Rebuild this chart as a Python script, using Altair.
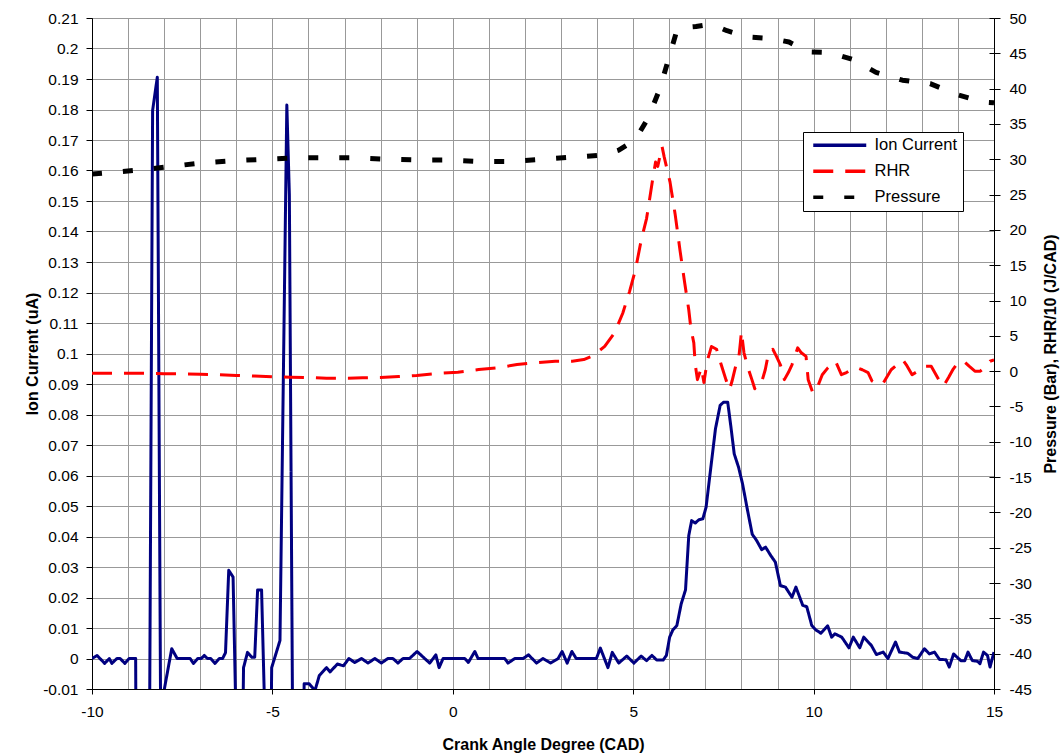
import altair as alt
import pandas as pd

# Ion current trace (crank angle in CAD, current in uA)
ion_cad = [
    -10.00, -9.86, -9.65, -9.52, -9.45, -9.31, -9.22, -9.09, -8.97, -8.79,
    -8.77, -8.42, -8.32, -8.19, -8.08, -8.01, -7.79, -7.64, -7.28, -7.19,
    -7.07, -6.97, -6.89, -6.80, -6.71, -6.59, -6.47, -6.38, -6.30, -6.21,
    -6.09, -5.94, -5.86, -5.80, -5.69, -5.57, -5.49, -5.41, -5.30, -5.12,
    -5.07, -5.02, -4.79, -4.60, -4.53, -4.42, -4.18, -4.12, -3.98, -3.82,
    -3.70, -3.50, -3.40, -3.20, -3.03, -2.88, -2.72, -2.53, -2.35, -2.16,
    -1.98, -1.80, -1.66, -1.52, -1.38, -1.20, -0.99, -0.78, -0.64, -0.47,
    -0.38, -0.27, 0.33, 0.43, 0.61, 0.70, 1.44, 1.53, 1.72, 1.95,
    2.10, 2.32, 2.50, 2.71, 2.92, 3.03, 3.17, 3.30, 3.42, 3.98,
    4.09, 4.30, 4.42, 4.60, 4.82, 5.02, 5.22, 5.37, 5.52, 5.65,
    5.83, 5.92, 6.01, 6.10, 6.21, 6.33, 6.45, 6.54, 6.62, 6.72,
    6.82, 6.93, 7.02, 7.13, 7.28, 7.41, 7.50, 7.62, 7.71, 7.80,
    7.92, 8.03, 8.17, 8.30, 8.41, 8.56, 8.67, 8.81, 8.94, 9.08,
    9.22, 9.40, 9.51, 9.70, 9.81, 9.95, 10.06, 10.20, 10.39, 10.50,
    10.59, 10.78, 10.98, 11.10, 11.28, 11.39, 11.60, 11.74, 11.93, 12.06,
    12.27, 12.38, 12.61, 12.75, 12.89, 13.07, 13.21, 13.35, 13.49, 13.67,
    13.76, 13.88, 14.08, 14.19, 14.28, 14.40, 14.54, 14.61, 14.71, 14.82,
    14.89, 15.00,
]
ion_ua = [
    0.0, 0.001, -0.0016, 0.0, -0.0016, 0.0, 0.0, -0.0016, 0.0, 0.0,
    -0.06, -0.06, 0.1797, 0.1906, -0.06, -0.011, 0.0032, 0.0, 0.0, -0.0016,
    0.0, 0.0, 0.001, 0.0, 0.0, -0.0016, 0.0, 0.0, 0.0019, 0.0289,
    0.0267, -0.06, -0.06, -0.003, 0.002, 0.0004, 0.0004, 0.0225, 0.0225, -0.06,
    -0.06, -0.003, 0.0059, 0.1815, 0.152, -0.06, -0.06, -0.0083, -0.0083, -0.0105,
    -0.0056, -0.0030, -0.0044, -0.0018, -0.0024, 0.0, -0.0013, 0.0, -0.0015, 0.0,
    -0.0015, 0.0, 0.0, -0.0015, 0.0, 0.0, 0.0023, 0.0, -0.0015, 0.0012,
    -0.003, 0.0, 0.0, -0.0013, 0.0023, 0.0, 0.0, -0.0015, 0.0, 0.0,
    0.0012, -0.0015, 0.0, -0.0015, 0.0, 0.0023, -0.0015, 0.0023, 0.0, 0.0,
    0.0034, -0.003, 0.002, -0.0015, 0.0008, -0.0015, 0.0008, -0.0007, 0.001, -0.0005,
    -0.0005, 0.001, 0.007, 0.0094, 0.0108, 0.0179, 0.0225, 0.0403, 0.0452, 0.0444,
    0.0455, 0.0458, 0.0496, 0.0605, 0.0753, 0.0830, 0.0840, 0.0840, 0.0758, 0.0671,
    0.0627, 0.0573, 0.0485, 0.0407, 0.0389, 0.0357, 0.0365, 0.0338, 0.0316, 0.0239,
    0.0234, 0.0201, 0.0234, 0.0174, 0.0170, 0.0108, 0.0094, 0.0083, 0.0107, 0.0070,
    0.0081, 0.0070, 0.0035, 0.0070, 0.0035, 0.0070, 0.0043, 0.0013, 0.0021, 0.0,
    0.0054, 0.0021, 0.0017, 0.0004, 0.0, 0.0032, 0.0015, 0.0021, -0.0003, -0.0004,
    -0.0028, 0.0015, -0.0007, -0.0007, 0.0021, -0.0007, -0.0009, -0.0017, 0.0021, 0.001,
    -0.0028, 0.0021,
]

# Rate of heat release / 10 (J/CAD)
rhr_cad = [
    -10.0, -9.5, -9.0, -8.5, -8.0, -7.5, -7.0, -6.5, -6.0, -5.5,
    -5.0, -4.5, -4.0, -3.5, -3.0, -2.5, -2.0, -1.5, -1.0, -0.5,
    0.14, 0.72, 1.25, 1.78, 2.25, 2.84, 3.31, 3.63, 3.89, 4.21,
    4.48, 4.71, 4.90, 5.06, 5.22, 5.37, 5.45, 5.55, 5.62, 5.68,
    5.80, 5.86, 6.02, 6.16, 6.30, 6.43, 6.54, 6.60, 6.68, 6.72,
    6.78, 6.89, 6.96, 7.05, 7.17, 7.31, 7.44, 7.57, 7.67, 7.74,
    7.84, 7.92, 7.97, 8.00, 8.07, 8.18, 8.29, 8.37, 8.44, 8.58,
    8.66, 8.76, 8.87, 8.97, 9.08, 9.19, 9.30, 9.40, 9.56, 9.66,
    9.79, 9.85, 9.98, 10.08, 10.24, 10.40, 10.61, 10.77, 10.91, 11.04,
    11.20, 11.35, 11.51, 11.62, 11.78, 11.94, 12.15, 12.31, 12.47, 12.57,
    12.73, 12.89, 13.10, 13.26, 13.47, 13.60, 13.74, 13.87, 14.00, 14.16,
    14.31, 14.47, 14.62, 14.78, 14.89, 15.00,
]
rhr_val = [
    -0.3, -0.3, -0.3, -0.3, -0.35, -0.4, -0.45, -0.5, -0.6, -0.7,
    -0.8, -0.85, -0.9, -1.0, -1.0, -0.95, -0.9, -0.75, -0.6, -0.35,
    -0.14, 0.23, 0.47, 0.94, 1.17, 1.41, 1.41, 1.64, 2.2, 3.5,
    5.4, 8.2, 11.3, 14.3, 18.5, 21.6, 24.2, 27.5, 29.6, 29.0,
    31.8, 30.3, 26.8, 22.3, 17.0, 12.4, 8.7, 6.0, 4.0, 0.9,
    -1.2, 0.5, -1.6, 1.4, 3.5, 3.1, 0.9, -1.2, -2.6, -1.4,
    0.7, 1.6, 4.0, 5.6, 2.6, 0.5, -1.2, -2.5, -1.6, -1.2,
    0.2, 2.8, 3.1, 2.1, 0.9, -1.2, -0.2, 0.9, 3.3, 2.6,
    2.1, -1.2, -3.1, -2.6, -0.5, 0.5, 1.4, -0.5, -0.2, 0.2,
    0.5, 0.2, -0.2, -1.4, -1.9, -1.6, 0.2, 0.9, 1.6, 0.9,
    -0.5, 0.0, 0.7, 0.7, -1.2, -2.1, -0.9, 0.3, 1.2, 1.4,
    0.7, 0.0, 0.0, 0.7, 1.4, 1.6,
]

# Cylinder pressure (bar)
p_cad = [
    -10.0, -8.64, -7.79, -6.93, -6.08, -5.22, -4.37, -3.51, -2.66, -1.82,
    -0.96, -0.11, 0.70, 1.60, 2.48, 3.33, 4.15, 4.60, 4.92, 5.20,
    5.42, 5.74, 5.98, 6.22, 6.50, 6.74, 7.00, 7.28, 7.60, 8.19,
    8.81, 9.32, 9.85, 10.45, 11.10, 11.73, 12.46, 13.23, 13.95, 14.70,
    15.00,
]
p_bar = [
    27.9, 28.5, 29.0, 29.5, 29.8, 30.0, 30.2, 30.2, 30.2, 30.0,
    29.9, 29.9, 29.7, 29.7, 30.0, 30.3, 30.6, 31.3, 32.3, 34.0,
    35.9, 40.0, 44.2, 48.4, 48.7, 48.8, 49.0, 48.9, 48.2, 47.3,
    47.1, 46.6, 45.2, 45.1, 44.1, 42.3, 41.2, 40.7, 39.2, 38.1,
    38.0,
]

series_names = ["Ion Current", "RHR", "Pressure"]
series_colors = ["#000080", "#FF0000", "#000000"]
series_dash = [[1, 0], [20, 12], [10, 21]]

x_ticks = list(range(-10, 16))
left_ticks = [round(i * 0.01, 2) for i in range(-1, 22)]
right_ticks = list(range(-45, 55, 5))

PLOT_W = 902
PLOT_H = 671
FONT = "Liberation Sans"
MINUS_FIX = "replace(format(datum.value, '{fmt}'), '\u2212', '-')"

ion_df = pd.DataFrame({"cad": ion_cad, "value": ion_ua, "series": "Ion Current"})
right_df = pd.concat(
    [
        pd.DataFrame({"cad": rhr_cad, "value": rhr_val, "series": "RHR"}),
        pd.DataFrame({"cad": p_cad, "value": p_bar, "series": "Pressure"}),
    ],
    ignore_index=True,
)

legend = alt.Legend(
    title=None,
    orient="none",
    legendX=711,
    legendY=114,
    symbolType="M-0.6,0L10,0",
    symbolSize=100,
    symbolStrokeWidth=3.5,
    labelFont=FONT,
    labelFontSize=16.5,
    labelColor="black",
    labelOffset=50,
    fillColor="white",
    strokeColor="black",
    padding=5,
    rowPadding=9,
)

color = alt.Color(
    "series:N",
    scale=alt.Scale(domain=series_names, range=series_colors),
    legend=legend,
)
dash = alt.StrokeDash(
    "series:N",
    scale=alt.Scale(domain=series_names, range=series_dash),
    legend=legend,
)
line_width = alt.condition(
    alt.datum.series == "Pressure", alt.value(5), alt.value(3)
)

x_enc = alt.X(
    "cad:Q",
    scale=alt.Scale(domain=[-10, 15], nice=False, zero=False),
    axis=alt.Axis(
        values=x_ticks,
        labelExpr="datum.value % 5 === 0 ? " + MINUS_FIX.format(fmt="d") + " : ''",
        tickColor={"condition": {"test": "datum.value % 5 !== 0", "value": "transparent"}, "value": "black"},
        tickSize=5,
        labelPadding=10,
        labelFlush=False,
        grid=True,
        title="Crank Angle Degree (CAD)",
        titlePadding=17,
    ),
)

right_scale = alt.Scale(domain=[-45, 50], nice=False, zero=False)

ion_layer = (
    alt.Chart(ion_df)
    .mark_line(clip=True, strokeCap="butt", strokeJoin="round")
    .encode(
        x=x_enc,
        y=alt.Y(
            "value:Q",
            scale=alt.Scale(domain=[-0.01, 0.21], nice=False, zero=False),
            axis=alt.Axis(
                values=left_ticks,
                labelExpr=MINUS_FIX.format(fmt=".2~f"),
                labelFlush=False,
                grid=True,
                tickSize=6,
                labelPadding=8,
                title="Ion Current (uA)",
                titleX=-60,
                titleY=PLOT_H / 2,
                titleBaseline="middle",
            ),
        ),
        color=color,
        strokeDash=dash,
        strokeWidth=line_width,
        order=alt.Order("cad:Q"),
    )
)

right_layer = (
    alt.Chart(right_df)
    .mark_line(clip=True, strokeCap="butt", strokeJoin="round")
    .encode(
        x=x_enc,
        y=alt.Y(
            "value:Q",
            scale=right_scale,
            axis=alt.Axis(
                orient="right",
                values=right_ticks,
                labelExpr=MINUS_FIX.format(fmt="d"),
                labelFlush=False,
                grid=False,
                tickSize=6,
                labelPadding=9,
                title="Pressure (Bar), RHR/10 (J/CAD)",
                titleAngle=270,
                titleX=56,
                titleY=PLOT_H / 2,
                titleBaseline="middle",
            ),
        ),
        color=color,
        strokeDash=dash,
        strokeWidth=line_width,
        order=alt.Order("cad:Q"),
    )
)

# Inner half of the secondary-axis ticks: a tick-only axis on the same scale,
# pushed across to the right edge so its ticks point into the plot.
inner_ticks = (
    alt.Chart(right_df)
    .mark_line(clip=True, strokeOpacity=0)
    .encode(
        x=x_enc,
        y=alt.Y(
            "value:Q",
            scale=right_scale,
            axis=alt.Axis(
                orient="left",
                offset=-PLOT_W,
                values=right_ticks,
                labels=False,
                domain=False,
                grid=False,
                tickSize=5,
                title=None,
            ),
        ),
        detail="series:N",
        order=alt.Order("cad:Q"),
    )
)

right_group = alt.layer(right_layer, inner_ticks).resolve_axis(y="independent")

chart = (
    alt.layer(ion_layer, right_group)
    .resolve_scale(y="independent")
    .properties(
        width=PLOT_W,
        height=PLOT_H,
        autosize=alt.AutoSizeParams(type="none"),
        padding={"left": 92, "top": 18, "right": 68, "bottom": 65},
        background="white",
    )
    .configure_view(stroke="black", strokeWidth=1)
    .configure_axis(
        labelFont=FONT,
        labelFontSize=15.5,
        labelColor="black",
        titleFont=FONT,
        titleFontSize=16,
        titleFontWeight="bold",
        titleColor="black",
        domainColor="black",
        domainWidth=1,
        tickColor="black",
        tickWidth=1,
        gridColor="#999999",
        gridWidth=1,
        gridOpacity=1,
    )
)

chart.save("out.html", embed_options={"renderer": "svg", "actions": False})
